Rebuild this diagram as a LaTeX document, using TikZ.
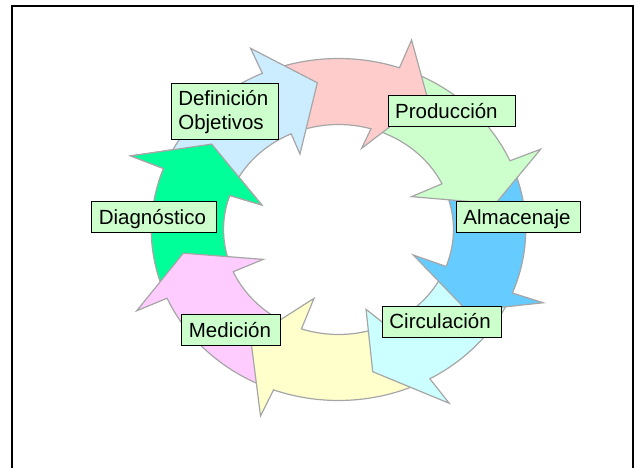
\documentclass[tikz,border=0pt]{standalone}
\usepackage{fontspec}
\setmainfont{Liberation Sans}
\definecolor{cLB}{HTML}{CCECFF}
\definecolor{cP}{HTML}{FFCCCC}
\definecolor{cLG}{HTML}{CCFFCC}
\definecolor{cB}{HTML}{66CCFF}
\definecolor{cC}{HTML}{CCFFFF}
\definecolor{cY}{HTML}{FFFFCC}
\definecolor{cM}{HTML}{FFCCFF}
\definecolor{cG}{HTML}{00FF99}
\definecolor{cOut}{HTML}{A6A6A6}
\definecolor{cLbl}{HTML}{CCFFCC}
% #1 fill, #2 tail outer angle, #3 outer neck angle, #4 outer barb, #5 tip, #6 inner barb, #7 inner neck angle, #8 tail inner angle
\newcommand{\cyclearrow}[8]{%
  \filldraw[arrowseg, fill=#1] (#2:171) arc[start angle=#2, end angle=#3, radius=171]
    -- (#4) -- (#5) -- (#6) -- (#7:105) arc[start angle=#7, end angle=#8, radius=105] -- cycle;}
\newcommand{\lblstrut}{\rule[-8.5pt]{0pt}{31pt}}
\begin{document}
\begin{tikzpicture}[x=1pt,y=1pt,
  arrowseg/.style={draw=cOut, line width=1.2pt, line join=miter},
  lbl/.style={draw=black, line width=1pt, fill=cLbl, inner xsep=7pt, inner ysep=0pt,
    align=left, font=\fontsize{20.5}{24}\selectfont}]
\useasboundingbox (0,0) rectangle (638,-468);
\fill[white] (0,0) rectangle (638,-468);
\draw[line width=2pt] (12,-470) -- (12,-6) -- (632.5,-6) -- (632.5,-470);
\begin{scope}[shift={(338.5,-229.5)}, xscale=1.095]
  \cyclearrow{cG}{200.7}{159.1}{158.8:203.5}{143.6:143.9}{160.7:74.3}{161.1}{201.7}
  \cyclearrow{cM}{-113.3}{-156.3}{-156.2:201.4}{-170.5:143.7}{-156.5:74.9}{-156.3}{-110.8}
  \cyclearrow{cY}{-63.8}{-110.3}{-110.9:199.6}{-126.3:135.5}{-108:72.4}{-108.8}{-67.6}
  \cyclearrow{cC}{-24.8}{-60.8}{-59.8:201.1}{-77.6:145.6}{-72.5:83.7}{-65.6}{-22.6}
  \cyclearrow{cB}{20.7}{-21.8}{-21.4:200.8}{-34.7:143.1}{-20.5:72.9}{-20.6}{23.8}
  \cyclearrow{cLG}{68}{23.7}{23.5:201.3}{10.2:145.6}{26.2:74.4}{25.8}{71.6}
  \cyclearrow{cP}{111}{71}{70.6:200.9}{58.3:154.6}{75.4:83.9}{73.6}{112.3}
  \cyclearrow{cLB}{156.1}{114}{113.9:198.2}{97.5:148}{115:83.3}{114.3}{159.1}
  \begin{scope}
    \clip (0,0) -- (164:300) arc[start angle=164, end angle=138, radius=300] -- cycle;
    \cyclearrow{cG}{200.7}{159.1}{158.8:203.5}{143.6:143.9}{160.7:74.3}{161.1}{201.7}
  \end{scope}
\end{scope}
\node[lbl, text width=93pt] (def) at (224.8,-111.3)
  {\rule{0pt}{22.7pt}Definición\\Objetivos\rule[-9.3pt]{0pt}{9.3pt}};
\node[lbl, text width=113.4pt] (prod) at (451.8,-111.2) {\lblstrut Producción};
\node[lbl, text width=110.5pt] (alm) at (518.7,-217.3) {\lblstrut Almacenaje};
\node[lbl, text width=104.8pt] (circ) at (441.8,-321.8) {\lblstrut Circulación};
\node[lbl, text width=84.8pt] (med) at (231.3,-330.3) {\lblstrut Medición};
\node[lbl, text width=110.9pt] (diag) at (154.3,-217.3) {\lblstrut Diagnóstico};
\end{tikzpicture}
\end{document}
